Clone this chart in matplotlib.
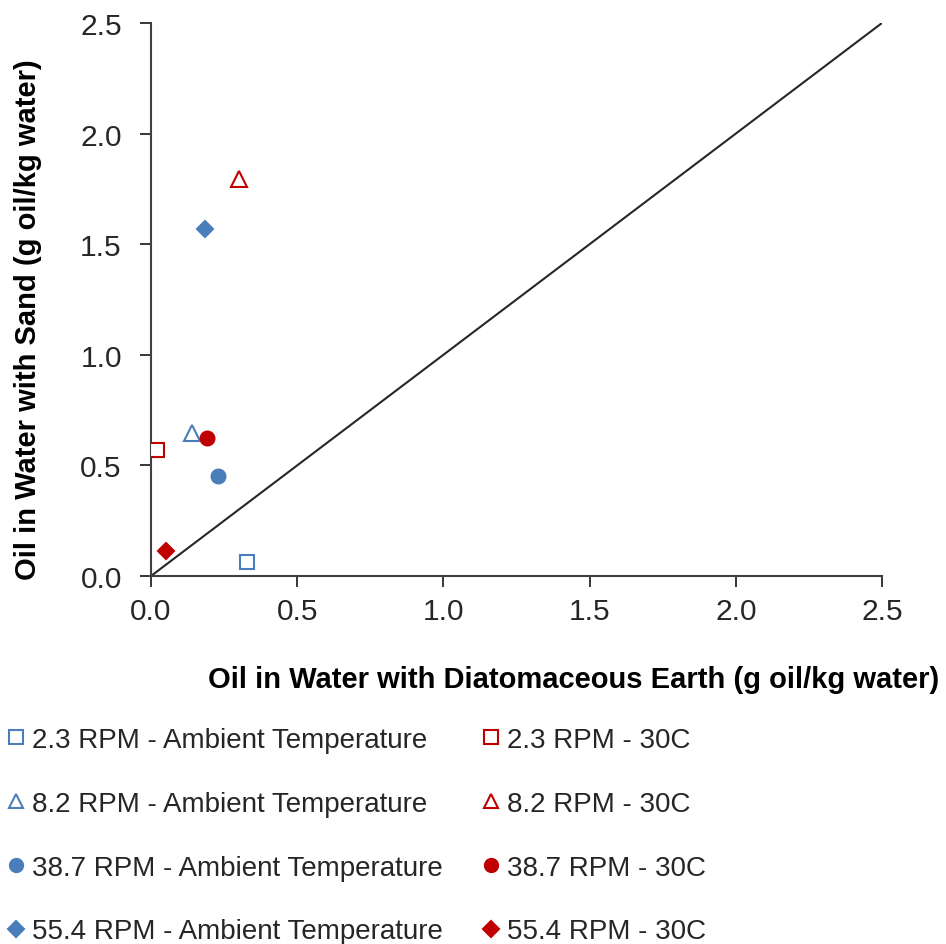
import matplotlib
matplotlib.use("Agg")
import matplotlib.pyplot as plt
from matplotlib.lines import Line2D

plt.rcParams['font.family'] = ['Liberation Sans', 'DejaVu Sans']

labels = ["2.3 RPM - Ambient Temperature", "8.2 RPM - Ambient Temperature",
          "38.7 RPM - Ambient Temperature", "55.4 RPM - Ambient Temperature",
          "2.3 RPM - 30C", "8.2 RPM - 30C", "38.7 RPM - 30C", "55.4 RPM - 30C"]
x_de = [0.33, 0.14, 0.23, 0.185, 0.02, 0.30, 0.19, 0.05]
y_sand = [0.065, 0.645, 0.45, 1.57, 0.57, 1.795, 0.625, 0.115]
markers = ['s', '^', 'o', 'D', 's', '^', 'o', 'D']
filled = [False, False, True, True, False, False, True, True]
blue = '#4A7EBB'
red = '#C00000'
colors = [blue] * 4 + [red] * 4
diag = [0, 2.5]

fig = plt.figure(figsize=(9.46, 9.45), dpi=100)
ax = fig.add_axes([151/946, 1 - 577/945, (882-151)/946, (577-24)/945])

ax.plot(diag, diag, color='#262626', lw=1.5, zorder=1)

handles = []
for xi, yi, m, f, c, lab in zip(x_de, y_sand, markers, filled, colors, labels):
    ms = {'s': 10, '^': 11, 'o': 10, 'D': 8.5}[m]
    kw = dict(marker=m, linestyle='none', markersize=ms, markeredgecolor=c,
              markerfacecolor=c if f else 'white', markeredgewidth=1.5)
    ax.plot([xi], [yi], zorder=3, **kw)
    lkw = dict(kw)
    lkw['markersize'] = ms * 0.95
    handles.append(Line2D([], [], label=lab, **lkw))

ax.set_xlim(0, 2.5)
ax.set_ylim(0, 2.5)
ticks = [0.0, 0.5, 1.0, 1.5, 2.0, 2.5]
ax.set_xticks(ticks)
ax.set_yticks(ticks)
ax.set_xticklabels([f"{t:.1f}" for t in ticks])
ax.set_yticklabels([f"{t:.1f}" for t in ticks])
ax.tick_params(axis='both', labelsize=21.5, colors='#262626', length=8, width=1.3,
               direction='out')
ax.tick_params(axis='x', pad=7)
ax.tick_params(axis='y', pad=13)
ax.spines['top'].set_visible(False)
ax.spines['right'].set_visible(False)
for s in ('left', 'bottom'):
    ax.spines[s].set_linewidth(1.5)
    ax.spines[s].set_color('#404040')

fig.text(574/946, 1 - 680/945, "Oil in Water with Diatomaceous Earth (g oil/kg water)",
         ha='center', va='center', fontsize=21, fontweight='bold')
fig.text(28/946, 1 - 320/945, "Oil in Water with Sand (g oil/kg water)",
         ha='center', va='center', rotation=90, fontsize=21, fontweight='bold')

common = dict(loc='upper left', frameon=False, fontsize=20, handlelength=0.6,
              handletextpad=0.25, labelspacing=1.36, borderaxespad=0, borderpad=0)
leg1 = fig.legend(handles=handles[:4], bbox_to_anchor=(8/946, 1 - 728/945), **common)
leg2 = fig.legend(handles=handles[4:], bbox_to_anchor=(483/946, 1 - 728/945), **common)
for leg in (leg1, leg2):
    for t in leg.get_texts():
        t.set_color('#262626')

fig.savefig("out.png", dpi=100)
